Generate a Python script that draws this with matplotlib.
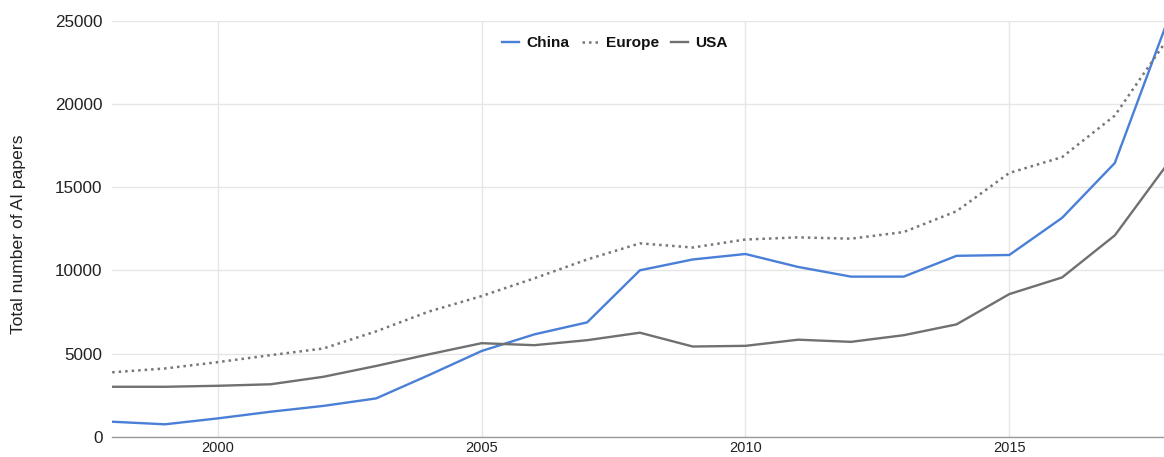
import matplotlib
matplotlib.use("Agg")
import matplotlib.pyplot as plt

years = list(range(1998, 2019))
china = [900, 745, 1100, 1500, 1850, 2300, 3700, 5150, 6150, 6870, 10000, 10650, 10980,
         10200, 9620, 9620, 10870, 10920, 13150, 16450, 25000]
europe = [3870, 4100, 4480, 4900, 5300, 6330, 7520, 8450, 9520, 10650, 11620, 11370, 11850,
          11980, 11900, 12300, 13550, 15850, 16800, 19300, 23900]
usa = [3000, 3000, 3060, 3150, 3600, 4250, 4950, 5620, 5500, 5800, 6250, 5420, 5460,
       5830, 5700, 6100, 6750, 8570, 9570, 12100, 16400]
yticks = [0, 5000, 10000, 15000, 20000, 25000]
xticks = [2000, 2005, 2010, 2015]

plt.rcParams['font.family'] = ['Liberation Sans', 'DejaVu Sans']

fig = plt.figure(figsize=(11.64, 4.57), dpi=100)
ax = fig.add_axes([112.2 / 1164, 20.3 / 457, (1164 - 112.2) / 1164, 416 / 457])

ax.plot(years, china, color='#4a7fd8', lw=1.7, label='China', solid_joinstyle='miter', zorder=3)
ax.plot(years, europe, color='#777777', lw=1.8, linestyle=(0, (1, 1.6)), label='Europe', zorder=3)
ax.plot(years, usa, color='#707070', lw=1.7, label='USA', zorder=3)

ax.set_xlim(1998, 1998 + (1164 - 112.2) / 52.77)
ax.set_ylim(0, 25000)
ax.set_xticks(xticks)
ax.set_yticks(yticks)
ax.set_xticklabels([str(x) for x in xticks], fontsize=10.5, color='#222222')
ax.set_yticklabels([str(y) for y in yticks], fontsize=12.3, color='#222222')
ax.tick_params(axis='both', length=0)
ax.tick_params(axis='y', pad=7)
ax.tick_params(axis='x', pad=3)

ax.grid(True, color='#e6e6e6', lw=1.0, zorder=0)
for s in ['top', 'right', 'left']:
    ax.spines[s].set_visible(False)
ax.spines['bottom'].set_color('#999999')
ax.spines['bottom'].set_linewidth(1.0)

ax.set_ylabel('Total number of AI papers', fontsize=12.6, color='#222222')
ax.yaxis.set_label_coords(-0.082, 0.487)

leg = ax.legend(loc='center', bbox_to_anchor=(0.478, 0.946), ncol=3, frameon=False,
                handlelength=1.1, handletextpad=0.45, columnspacing=0.8,
                prop={'weight': 'bold', 'size': 11.1})
for t in leg.get_texts():
    t.set_color('#111111')

fig.savefig('out.png', dpi=100)
